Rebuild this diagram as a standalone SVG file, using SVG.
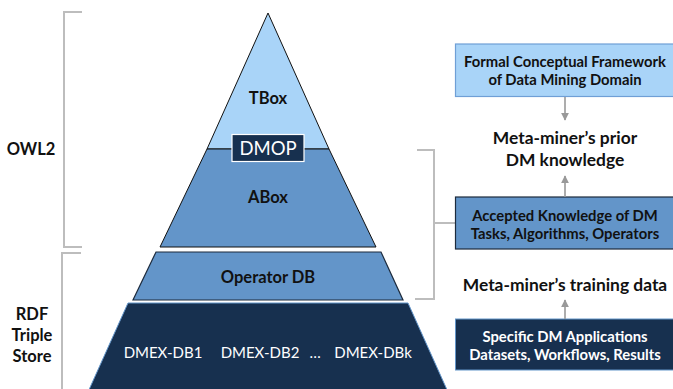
<svg xmlns="http://www.w3.org/2000/svg" width="673" height="389" viewBox="0 0 673 389">
<style>
text{font-family:Lato,"Open Sans","Liberation Sans",sans-serif;text-anchor:middle}
.b{font-weight:bold;fill:#111}
.w{fill:#fff}
.t{font-size:16.5px}
.bx{font-size:14.8px;font-weight:bold}
.h{font-size:17.4px}
.br{fill:none;stroke:#bdbdbd;stroke-width:2}
.ar{stroke:#999;stroke-width:1.6;fill:none}
</style>
<defs>
<marker id="ah" viewBox="0 0 10 10" refX="9" refY="5" markerWidth="5" markerHeight="5" orient="auto"><path d="M0,0L10,5L0,10z" fill="#999"/></marker>
</defs>
<rect width="673" height="389" fill="#fff"/>
<g id="brackets">
<path class="br" d="M82,12H64V247H82"/>
<path class="br" d="M81,253H62V389"/>
<path class="br" d="M417,150H434V299H415M434,223H456"/>
</g>
<g id="tbox">
<path d="M268,13L329,149H207Z" fill="#a9d4f8" stroke="#111" stroke-width="1"/>
<text class="b t" x="268" y="104">TBox</text>
</g>
<g id="abox">
<path d="M207,149H329L376,247H160Z" fill="#6395c9" stroke="#111" stroke-width="1"/>
<text class="b t" x="268" y="203">ABox</text>
</g>
<g id="dmop">
<rect x="232" y="134.5" width="72" height="27" fill="#17304f" stroke="#fff" stroke-width="1.2"/>
<text class="w" x="268" y="155" font-size="18.5">DMOP</text>
</g>
<g id="operatordb">
<path d="M156,252H381L403,300H133Z" fill="#6395c9" stroke="#1d2b3d" stroke-width="1.2"/>
<text class="b t" x="268" y="283">Operator DB</text>
</g>
<g id="dmex">
<path d="M128,303H408L448,392H88Z" fill="#17304f" stroke="#6395c9" stroke-width="1"/>
<text class="w" x="163" y="358" font-size="15">DMEX-DB1</text>
<text class="w" x="260" y="358" font-size="15">DMEX-DB2</text>
<text class="w" x="315" y="358" font-size="15">…</text>
<text class="w" x="373" y="358" font-size="15">DMEX-DBk</text>
</g>
<g id="owl2"><text class="b t" x="31" y="155">OWL2</text></g>
<g id="rdf">
<text class="b t" x="32" y="320">RDF</text>
<text class="b t" x="32" y="341">Triple</text>
<text class="b t" x="32" y="362">Store</text>
</g>
<g id="framework">
<rect x="455.5" y="44" width="220" height="52.5" fill="#a9d4f8" stroke="#6f9fd6" stroke-width="1.2"/>
<text class="b bx" x="565" y="67">Formal Conceptual Framework</text>
<text class="b bx" x="565" y="85">of Data Mining Domain</text>
</g>
<g id="prior">
<text class="b h" x="565" y="144">Meta-miner’s prior</text>
<text class="b h" x="565" y="166">DM knowledge</text>
</g>
<g id="accepted">
<rect x="455.5" y="197" width="220" height="52" fill="#6395c9" stroke="#1d2b3d" stroke-width="1.2"/>
<text class="b bx" x="565" y="221">Accepted Knowledge of DM</text>
<text class="b bx" x="565" y="239">Tasks, Algorithms, Operators</text>
</g>
<g id="training">
<text class="b h" x="565" y="291">Meta-miner’s training data</text>
</g>
<g id="specific">
<rect x="455.5" y="319" width="220" height="51" fill="#17304f" stroke="#6395c9" stroke-width="1"/>
<text class="w bx" x="565" y="342">Specific DM Applications</text>
<text class="w bx" x="565" y="360">Datasets, Workflows, Results</text>
</g>
<g id="connectors">
<path class="ar" d="M565,97V120" marker-end="url(#ah)"/>
<path class="ar" d="M565,197V176" marker-end="url(#ah)"/>
<path class="ar" d="M565,319V300" marker-end="url(#ah)"/>
</g>
</svg>
